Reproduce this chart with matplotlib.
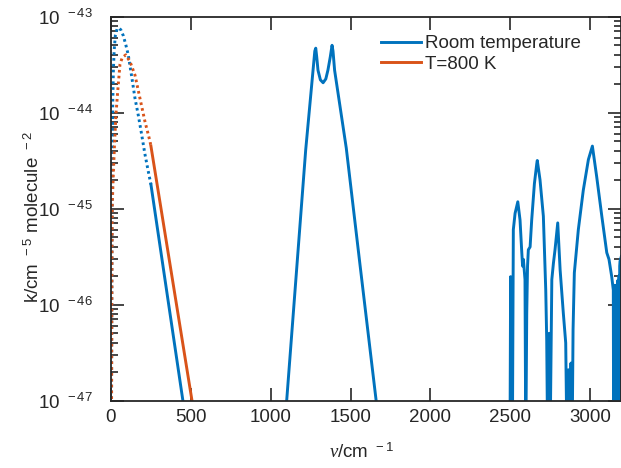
import numpy as np
import matplotlib
matplotlib.use('Agg')
import matplotlib.pyplot as plt
from matplotlib.ticker import LogLocator, FixedLocator, NullFormatter, FuncFormatter

plt.rcParams['font.family'] = ['Liberation Sans', 'DejaVu Sans']
plt.rcParams['mathtext.fontset'] = 'custom'
plt.rcParams['mathtext.rm'] = 'Liberation Sans'
plt.rcParams['mathtext.it'] = 'Liberation Serif:italic'
plt.rcParams['mathtext.bf'] = 'Liberation Sans:bold'

# ---------------- data (log10 of k) ----------------
# Room temperature, extrapolated low-frequency part (dotted)
room_dot_nu = [2, 4, 6, 8, 11, 15, 20, 27, 38, 50, 62, 77, 92, 108, 129, 150,
               171, 192, 212, 233, 250]
room_dot_log10k = [-48.0, -46.5, -45.2, -44.5, -43.9, -43.55, -43.35, -43.2,
                   -43.13, -43.12, -43.14, -43.2, -43.29, -43.4, -43.62,
                   -43.85, -44.03, -44.23, -44.43, -44.61, -44.75]

# Room temperature, measured part (solid), in segments
room_low_nu = [250, 450, 465]
room_low_log10k = [-44.75, -47.0, -47.2]

room_band_nu = [1090, 1100, 1219, 1265, 1276, 1282, 1288, 1296, 1311, 1328,
                1345, 1358, 1373, 1384, 1390, 1400, 1473, 1560, 1660, 1680]
room_band_log10k = [-47.2, -47.0, -44.39, -43.56, -43.36, -43.33, -43.42,
                    -43.56, -43.66, -43.69, -43.65, -43.56, -43.42, -43.30,
                    -43.36, -43.56, -44.37, -45.6, -47.0, -47.3]

room_high_nu = [2498, 2502, 2504, 2506, 2513, 2519, 2530, 2547, 2561, 2572,
                2577, 2582, 2592, 2597, 2603, 2608, 2613, 2624, 2634, 2651,
                2666, 2669, 2686, 2707, 2722, 2728, 2734, 2743, 2749, 2760,
                2770, 2780, 2797, 2812, 2832, 2847, 2855, 2864, 2872, 2880,
                2887, 2893, 2901, 2926, 2957, 2989, 3014, 3041, 3073, 3104,
                3118, 3135, 3145]
room_high_log10k = [-47.5, -45.71, -46.2, -45.8, -47.5, -45.22, -45.05, -44.93,
                    -45.12, -45.46, -45.6, -45.53, -45.74, -47.5, -46.09,
                    -45.6, -45.43, -45.40, -45.12, -44.74, -44.53, -44.50,
                    -44.70, -45.08, -45.85, -46.37, -47.5, -46.30, -47.5,
                    -45.74, -45.57, -45.43, -45.15, -45.64, -46.09, -46.40,
                    -47.5, -46.68, -47.5, -46.61, -47.5, -46.26, -45.67,
                    -45.22, -44.81, -44.49, -44.35, -44.67, -45.08, -45.46,
                    -45.53, -45.71, -45.85]

room_edge_nu = [3147, 3149, 3151, 3153, 3155, 3157, 3159, 3161, 3163, 3165,
                3167, 3169, 3171, 3173, 3175, 3177, 3179, 3181, 3183, 3185,
                3187, 3195]
room_edge_log10k = [-47.5, -45.9, -47.5, -45.8, -47.5, -45.95, -47.5, -45.8,
                    -47.5, -45.9, -47.5, -45.85, -47.5, -45.75, -47.5, -45.8,
                    -47.5, -45.7, -47.5, -45.6, -45.55, -45.5]

# T = 800 K, extrapolated (dotted)
hot_dot_nu = [2, 3, 4.5, 6, 8, 15, 21, 31, 42, 56, 70, 92, 119, 150, 181,
              212, 244, 250]
hot_dot_log10k = [-48.0, -47.3, -46.5, -45.6, -44.95, -44.62, -44.37, -44.02,
                  -43.78, -43.5, -43.43, -43.4, -43.47, -43.61, -43.85,
                  -44.09, -44.30, -44.35]

# T = 800 K, measured (solid)
hot_nu = [250, 507, 520]
hot_log10k = [-44.35, -47.0, -47.15]

labels = ['Room temperature', 'T=800 K']
yticks_exp = [-47, -46, -45, -44, -43]
xticks = [0, 500, 1000, 1500, 2000, 2500, 3000]

room_nu = room_low_nu + room_band_nu + room_high_nu + room_edge_nu
room_log10k = room_low_log10k + room_band_log10k + room_high_log10k + room_edge_log10k

blue = '#0072BD'
orange = '#D95319'

W, H = 621, 468
fig = plt.figure(figsize=(W / 100, H / 100), dpi=100)
ax = fig.add_axes([111 / W, (H - 400.5) / H, 509.5 / W, 384 / H])

lw = 2.1
ax.plot(room_nu, 10.0 ** np.array(room_log10k), color=blue, lw=lw,
        label=labels[0])
ax.plot(hot_nu, 10.0 ** np.array(hot_log10k), color=orange, lw=lw,
        label=labels[1])
ax.plot(room_dot_nu, 10.0 ** np.array(room_dot_log10k), color=blue, lw=lw,
        ls=(0, (0.9, 1.1)))
ax.plot(hot_dot_nu, 10.0 ** np.array(hot_dot_log10k), color=orange, lw=lw,
        ls=(0, (0.9, 1.1)))

ax.set_yscale('log')
ax.set_xlim(0, 3190)
ax.set_ylim(1e-47, 1e-43)

ax.xaxis.set_major_locator(FixedLocator(xticks))
ax.yaxis.set_major_locator(FixedLocator([10.0 ** e for e in yticks_exp]))
ax.yaxis.set_minor_locator(LogLocator(base=10, subs=np.arange(2, 10)))
ax.yaxis.set_minor_formatter(NullFormatter())
ax.yaxis.set_major_formatter(FuncFormatter(
    lambda v, p: r'$\mathregular{10^{\ \ %d}}$' % int(round(np.log10(v)))))

spine_c = '#262626'
for s in ax.spines.values():
    s.set_color(spine_c)
    s.set_linewidth(1.3)
ax.tick_params(which='both', direction='in', top=True, right=True,
               color=spine_c, labelcolor=spine_c, labelsize=13.5, width=1.2)
ax.tick_params(axis='x', which='major', length=9.5, pad=6)
ax.tick_params(axis='y', which='major', length=9.5, pad=13)
ax.tick_params(axis='y', which='minor', length=4.7)

leg = ax.legend(loc='upper left', bbox_to_anchor=(381.0 / W, 1 - 35 / H),
                bbox_transform=fig.transFigure, frameon=False,
                fontsize=13.5, handlelength=2.14, handletextpad=0.2,
                labelspacing=0.2, borderpad=0, borderaxespad=0)
for t in leg.get_texts():
    t.set_color(spine_c)

fig.text(362 / W, 1 - 452 / H, r'$\nu$/cm$^{\mathregular{\ \ -1}}$',
         ha='center', va='center', fontsize=13.5, color=spine_c)
fig.text(33 / W, 1 - 217 / H,
         r'k/cm$^{\mathregular{\ \ -5}}$ molecule$^{\mathregular{\ \ -2}}$',
         ha='center', va='center', rotation=90, fontsize=13.5, color=spine_c)

fig.savefig('out.png', dpi=100)
